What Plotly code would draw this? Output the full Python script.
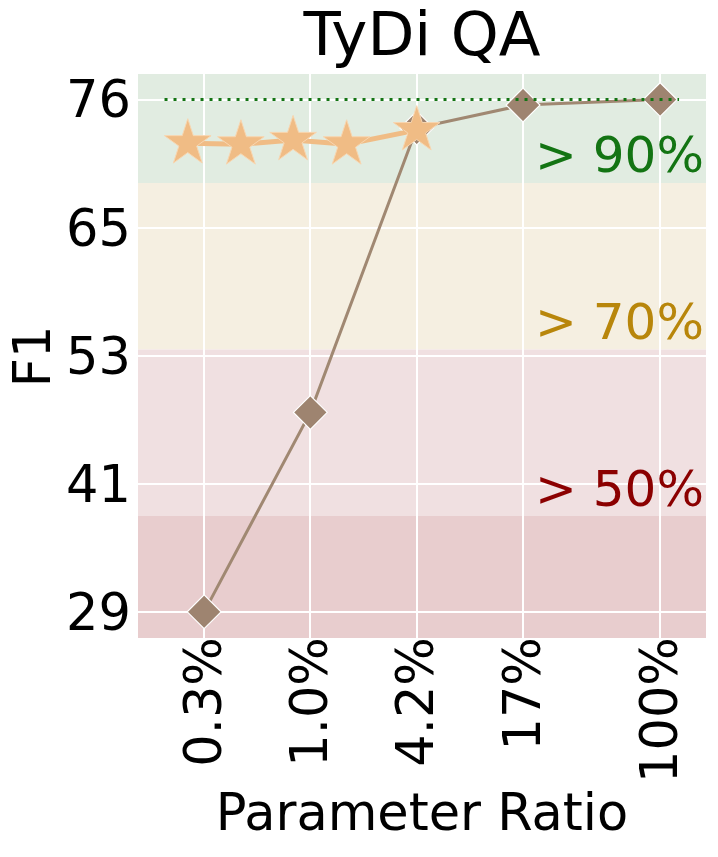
import plotly.graph_objects as go

# parameter ratio (%) of the evaluated models and the tick labels
ratio_x = [0.26, 1.04, 4.17, 16.7, 100]
ratio_labels = ["0.3%", "1.0%", "4.2%", "17%", "100%"]
f1_full = [29.4, 47.7, 73.8, 75.9, 76.4]

# star series (smaller ratios)
star_x = [0.21, 0.42, 0.83, 1.67, 4.17]
star_f1 = [72.4, 72.3, 72.7, 72.3, 73.6]

# reference (full model) line
ref_f1 = 76.4
ref_x = [0.155, 128]

y_ticks = [29.4, 41.15, 52.9, 64.65, 76.4]
y_tick_labels = ["29", "41", "53", "65", "76"]

# threshold bands: fraction of full score, label, text color, band color
band_frac = [0.9, 0.7, 0.5]
band_labels = ["> 90%", "> 70%", "> 50%"]
band_text_colors = ["#137413", "#B8860B", "#8B0000"]
band_colors = ["#E1ECE1", "#F5EFE1", "#F0E0E1", "#E8CDCE"]

y_range = [27.0, 78.75]
FONT = "DejaVu Sans"

fig = go.Figure()

# background bands
edges = [y_range[1]] + [ref_f1 * f for f in band_frac] + [y_range[0]]
for i, col in enumerate(band_colors):
    fig.add_shape(type="rect", xref="paper", x0=0, x1=1, yref="y",
                  y0=edges[i + 1], y1=edges[i], fillcolor=col,
                  line_width=0, layer="below")

fig.add_trace(go.Scatter(
    x=ratio_x, y=f1_full, mode="lines+markers",
    line=dict(color="#A08872", width=3),
    marker=dict(symbol="diamond", size=26, color="#9E8470",
                line=dict(color="white", width=1.2)),
    showlegend=False
))

fig.add_trace(go.Scatter(
    x=star_x, y=star_f1, mode="lines+markers",
    line=dict(color="#F0BC85", width=5),
    marker=dict(symbol="star", size=35, color="#F0BC85",
                line=dict(color="#F8D6B0", width=1)),
    showlegend=False
))

fig.add_trace(go.Scatter(
    x=ref_x, y=[ref_f1, ref_f1], mode="lines",
    line=dict(color="#137413", width=3, dash="3px,6px"),
    showlegend=False
))

# band labels, placed at the lower edge of each band
label_offsets = [2.6, 2.5, 2.5]
for frac, txt, col, off in zip(band_frac, band_labels, band_text_colors, label_offsets):
    fig.add_annotation(
        x=1, xref="paper", xanchor="right",
        y=ref_f1 * frac + off, yref="y", yanchor="middle",
        text=txt, showarrow=False,
        font=dict(family=FONT, size=50, color=col)
    )

# y axis title as an annotation so it can sit a little further left
fig.add_annotation(
    x=-0.186, xref="paper", xanchor="center",
    y=0.5, yref="paper", yanchor="middle",
    text="F1", textangle=-90, showarrow=False,
    font=dict(family=FONT, size=51, color="black")
)

# the page body adds an 8px offset, so the figure is 8px smaller than the window
fig.update_layout(
    width=710, height=849,
    margin=dict(l=130, r=12, t=66, b=219),
    paper_bgcolor="white",
    plot_bgcolor="white",
    font=dict(family=FONT, color="black"),
    title=dict(text="TyDi QA", x=0.5, xref="paper", xanchor="center",
               y=0.995, yref="container", yanchor="top",
               font=dict(family=FONT, size=61, color="black")),
)

fig.update_xaxes(
    type="log", range=[-0.96, 2.26], automargin=False,
    tickvals=ratio_x, ticktext=ratio_labels, tickangle=-90,
    tickfont=dict(size=51), showgrid=True, gridcolor="white", gridwidth=2,
    zeroline=False, showline=False,
    ticks="", ticklabelstandoff=-12,
    title=dict(text="Parameter Ratio", font=dict(size=51), standoff=12),
)

fig.update_yaxes(
    range=y_range, tickvals=y_ticks, ticktext=y_tick_labels, automargin=False,
    tickfont=dict(size=51), showgrid=True, gridcolor="white", gridwidth=2,
    zeroline=False, showline=False,
    ticks="", ticklabelstandoff=6,
)

fig.write_html("out.html")
